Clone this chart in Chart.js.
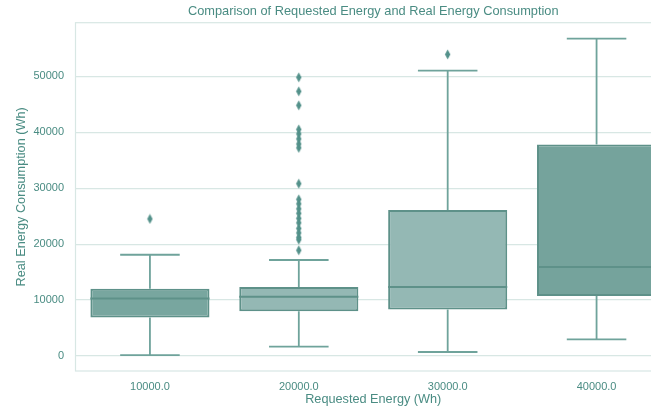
<!DOCTYPE html>
<html>
<head>
<meta charset="utf-8">
<script src="https://cdn.jsdelivr.net/npm/chart.js@4.4.1/dist/chart.umd.min.js"></script>
<style>
  html, body { margin: 0; padding: 0; background: #ffffff; overflow: hidden; }
  #wrap { position: absolute; left: 0; top: 0; width: 746px; height: 409px; }
</style>
</head>
<body>
<div id="wrap"><canvas id="chart" width="746" height="409"></canvas></div>
<script>
// Requested energy groups and the box-plot statistics of the real consumption (Wh)
const categories = ['10000.0', '20000.0', '30000.0', '40000.0'];
const lowerWhisker = [150, 1680, 720, 2990];
const quartile1 = [6860, 8000, 8290, 10730];
const medians = [10260, 10600, 12330, 15900];
const quartile3 = [12000, 12330, 26100, 37800];
const upperWhisker = [18100, 17160, 51000, 56740];

// Points beyond the whiskers, per group
const outliers10k = [24500];
const outliers20k = [18900, 20800, 21200, 22000, 22800, 23800, 24600, 25500, 26300, 27200, 28000,
                     30800, 37200, 37900, 38800, 39700, 40500, 44800, 47300, 49800];
const outliers30k = [53900];
const outliers40k = [];

const yTickValues = [0, 10000, 20000, 30000, 40000, 50000];
const yMin = -2680;
const yMax = 59570;

const chartTitle = 'Comparison of Requested Energy and Real Energy Consumption';

const boxFills = ['#78a69f', '#94b8b4', '#94b8b4', '#75a39c'];
const edgeColor = '#5e9189';
const whiskerColor = '#6fa39b';
const textColor = '#4a8c83';
const gridColor = '#d8e7e4';
const fontFamily = '"Liberation Sans", Arial, Helvetica, sans-serif';

const outlierPoints = [];
[outliers10k, outliers20k, outliers30k, outliers40k].forEach((vals, i) => {
  vals.forEach(v => outlierPoints.push({ x: categories[i], y: v }));
});

// Thin diamond marker for the outliers
function makeDiamond() {
  const c = document.createElement('canvas');
  c.width = 7; c.height = 11;
  const g = c.getContext('2d');
  g.fillStyle = '#53918a';
  g.beginPath();
  g.moveTo(3.5, 0.4);
  g.lineTo(6.2, 5.5);
  g.lineTo(3.5, 10.6);
  g.lineTo(0.8, 5.5);
  g.closePath();
  g.fill();
  return c;
}

// Whiskers, caps and median lines drawn through the chart's scales
const boxParts = {
  id: 'boxParts',
  afterDatasetsDraw(chart) {
    const { ctx, scales: { x, y } } = chart;
    const meta = chart.getDatasetMeta(0);
    ctx.save();
    ctx.lineCap = 'butt';
    categories.forEach((c, i) => {
      const bar = meta.data[i];
      const cx = x.getPixelForValue(i);
      const half = bar.width / 2;
      const capHalf = half / 2;
      const yLo = y.getPixelForValue(lowerWhisker[i]);
      const yHi = y.getPixelForValue(upperWhisker[i]);
      const yQ1 = y.getPixelForValue(quartile1[i]);
      const yQ3 = y.getPixelForValue(quartile3[i]);
      const yMed = y.getPixelForValue(medians[i]);
      ctx.strokeStyle = whiskerColor;
      ctx.lineWidth = 1.8;
      ctx.beginPath();
      ctx.moveTo(cx, yQ1); ctx.lineTo(cx, yLo);
      ctx.moveTo(cx, yQ3); ctx.lineTo(cx, yHi);
      ctx.moveTo(cx - capHalf, yLo); ctx.lineTo(cx + capHalf, yLo);
      ctx.moveTo(cx - capHalf, yHi); ctx.lineTo(cx + capHalf, yHi);
      ctx.stroke();
      ctx.strokeStyle = edgeColor;
      ctx.lineWidth = 2;
      ctx.beginPath();
      ctx.moveTo(cx - half, yMed); ctx.lineTo(cx + half, yMed);
      ctx.stroke();
    });
    ctx.restore();
  }
};

// Light frame around the plotting area, and the title centred over it
const frame = {
  id: 'frame',
  beforeDatasetsDraw(chart) {
    const { ctx, chartArea: a } = chart;
    ctx.save();
    ctx.strokeStyle = gridColor;
    ctx.lineWidth = 1.2;
    ctx.strokeRect(a.left, a.top, a.right - a.left, a.bottom - a.top);
    ctx.restore();
  },
  afterDraw(chart) {
    const { ctx, chartArea: a } = chart;
    ctx.save();
    ctx.fillStyle = textColor;
    ctx.font = '12.8px ' + fontFamily;
    ctx.textAlign = 'center';
    ctx.textBaseline = 'middle';
    ctx.fillText(chartTitle, (a.left + a.right) / 2, a.top / 2 + 0.3);
    ctx.restore();
  }
};

new Chart(document.getElementById('chart'), {
  data: {
    labels: categories,
    datasets: [
      {
        type: 'bar',
        data: categories.map((c, i) => [quartile1[i], quartile3[i]]),
        backgroundColor: boxFills,
        borderColor: edgeColor,
        borderWidth: 2,
        borderSkipped: false,
        barPercentage: 0.8,
        categoryPercentage: 1.0,
        order: 2
      },
      {
        type: 'line',
        data: outlierPoints,
        showLine: false,
        pointStyle: makeDiamond(),
        pointRadius: 3,
        pointHoverRadius: 3,
        order: 1
      }
    ]
  },
  options: {
    responsive: false,
    animation: false,
    devicePixelRatio: 1,
    layout: { padding: { left: 0, right: 75, top: 22.7, bottom: 0 } },
    plugins: {
      legend: { display: false },
      tooltip: { enabled: false },
      title: { display: false }
    },
    scales: {
      x: {
        type: 'category',
        offset: true,
        grid: { display: false, drawTicks: false },
        border: { display: false },
        ticks: {
          color: textColor,
          font: { family: fontFamily, size: 11 },
          padding: 9,
          maxRotation: 0
        },
        title: {
          display: true,
          text: 'Requested Energy (Wh)',
          color: textColor,
          font: { family: fontFamily, size: 12.7 },
          padding: { top: 0, bottom: 1.4 }
        },
        afterFit(scale) { scale.height = 38; }
      },
      y: {
        type: 'linear',
        min: yMin,
        max: yMax,
        grid: { color: gridColor, lineWidth: 1.2, drawTicks: false },
        border: { display: false },
        afterBuildTicks(scale) { scale.ticks = yTickValues.map(v => ({ value: v })); },
        ticks: {
          color: textColor,
          font: { family: fontFamily, size: 11 },
          padding: 11.5,
          callback: v => String(v)
        },
        title: {
          display: true,
          text: 'Real Energy Consumption (Wh)',
          color: textColor,
          font: { family: fontFamily, size: 12.7 },
          padding: { top: 14, bottom: 0 }
        },
        afterFit(scale) { scale.width = 75.5; }
      }
    }
  },
  plugins: [frame, boxParts]
});
</script>
</body>
</html>
